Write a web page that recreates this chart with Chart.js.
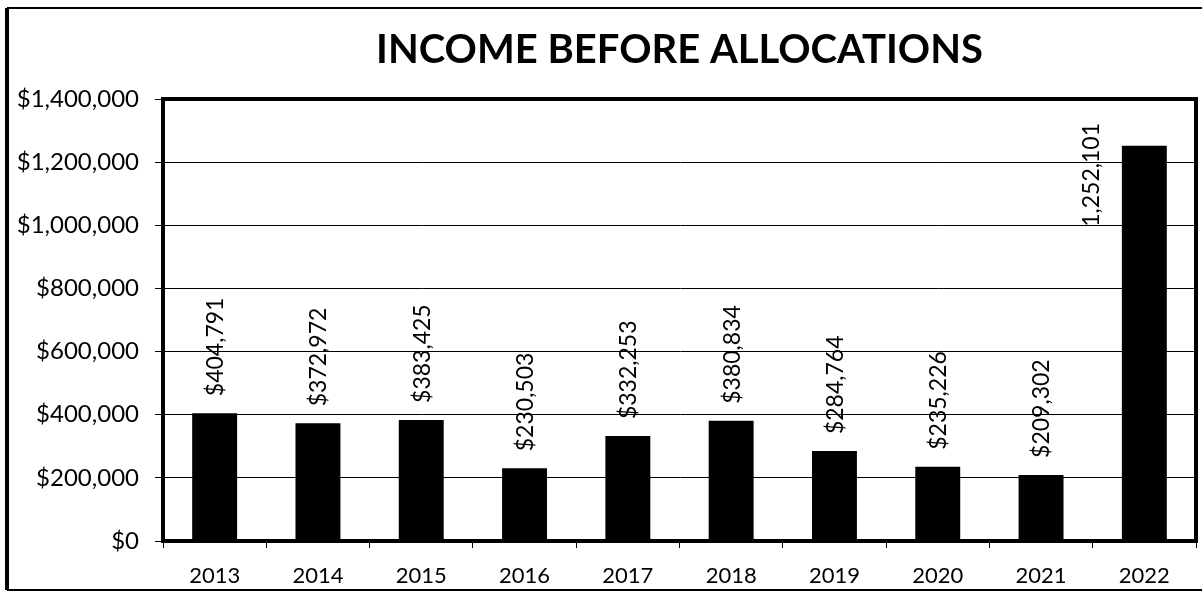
<!DOCTYPE html>
<html>
<head>
<meta charset="utf-8">
<script src="https://cdn.jsdelivr.net/npm/chart.js@4"></script>
<style>
  html, body { margin: 0; padding: 0; background: #fff; }
  #wrap { width: 1202px; height: 592px; position: relative; }
</style>
</head>
<body>
<div id="wrap"><canvas id="incomeChart" width="1202" height="592"></canvas></div>
<script>
const years = ["2013", "2014", "2015", "2016", "2017", "2018", "2019", "2020", "2021", "2022"];
const income = [404791, 372972, 383425, 230503, 332253, 380834, 284764, 235226, 209302, 1252101];
const yTicks = [0, 200000, 400000, 600000, 800000, 1000000, 1200000, 1400000];

const FONT = "Lato, 'Open Sans', sans-serif";

const money = (v) => "$" + v.toLocaleString("en-US");
// last bar's label is printed without the dollar sign
const barLabels = income.map((v, i) => (i === income.length - 1 ? v.toLocaleString("en-US") : money(v)));

// outer frame + heavy box round the plot area
const frames = {
  id: "frames",
  beforeDraw(chart) {
    const ctx = chart.ctx;
    ctx.save();
    ctx.fillStyle = "#fff";
    ctx.fillRect(0, 0, chart.width, chart.height);
    ctx.strokeStyle = "#000";
    ctx.lineWidth = 4;
    ctx.beginPath();
    ctx.moveTo(7, 8);
    ctx.lineTo(7, 590);
    ctx.stroke();
    ctx.lineWidth = 2;
    ctx.beginPath();
    ctx.moveTo(7, 8);
    ctx.lineTo(chart.width, 8);
    ctx.moveTo(7, 590);
    ctx.lineTo(chart.width, 590);
    ctx.stroke();
    ctx.restore();
  },
  afterDatasetsDraw(chart) {
    const a = chart.chartArea;
    const ctx = chart.ctx;
    ctx.save();
    ctx.strokeStyle = "#000";
    ctx.lineWidth = 4;
    ctx.strokeRect(a.left, a.top, a.right - a.left, a.bottom - a.top);
    ctx.restore();
  },
};

// rotated value labels above each bar
const valueLabels = {
  id: "valueLabels",
  afterDraw(chart) {
    const ctx = chart.ctx;
    const a = chart.chartArea;
    const meta = chart.getDatasetMeta(0);
    ctx.save();
    ctx.font = "23px " + FONT;
    ctx.fillStyle = "#000";
    ctx.textBaseline = "middle";
    ctx.textAlign = "left";
    meta.data.forEach((bar, i) => {
      const text = barLabels[i];
      const len = ctx.measureText(text).width;
      let x = bar.x + 1;
      let y = bar.y - 17;
      if (y - len < a.top + 10) {
        // no room above: tuck it beside the bar
        x = bar.x - bar.width / 2 - 30;
        y = a.top + 24 + len;
      }
      ctx.save();
      ctx.translate(x, y);
      ctx.rotate(-Math.PI / 2);
      ctx.fillText(text, 0, 0);
      ctx.restore();
    });
    ctx.restore();
  },
};

new Chart(document.getElementById("incomeChart"), {
  type: "bar",
  data: {
    labels: years,
    datasets: [
      {
        label: "Income",
        data: income,
        backgroundColor: "#000",
        borderWidth: 0,
        barPercentage: 0.435,
        categoryPercentage: 1,
      },
    ],
  },
  options: {
    responsive: false,
    animation: false,
    layout: { padding: { left: 0, right: 6, top: 0, bottom: 0 } },
    plugins: {
      legend: { display: false },
      tooltip: { enabled: false },
      title: {
        display: true,
        text: "INCOME BEFORE ALLOCATIONS",
        fullSize: false,
        color: "#000",
        font: { family: FONT, size: 40, weight: "bold", lineHeight: 1.2 },
        padding: { top: 26, bottom: 25 },
      },
    },
    scales: {
      x: {
        grid: { drawOnChartArea: false, drawTicks: true, tickLength: 7, color: "#000", lineWidth: 1 },
        border: { display: true, color: "#000", width: 4 },
        ticks: { color: "#000", font: { family: FONT, size: 22 }, padding: 15, maxRotation: 0 },
        afterFit(scale) { scale.height = 51; },
      },
      y: {
        min: 0,
        max: 1400000,
        afterBuildTicks(scale) { scale.ticks = yTicks.map((v) => ({ value: v })); },
        grid: { color: "#000", lineWidth: 1, tickLength: 8 },
        border: { display: true, color: "#000", width: 4 },
        ticks: {
          color: "#000",
          font: { family: FONT, size: 24 },
          padding: 16,
          callback: (v) => money(v),
        },
        afterFit(scale) { scale.width = 163; },
      },
    },
  },
  plugins: [frames, valueLabels],
});
</script>
</body>
</html>
